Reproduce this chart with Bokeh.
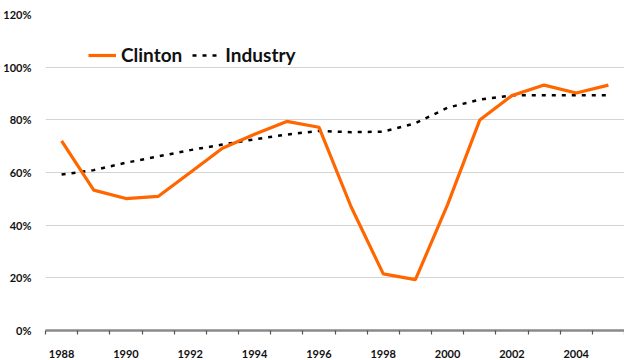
from bokeh.plotting import figure
from bokeh.models import ColumnDataSource, FixedTicker, PrintfTickFormatter, NumeralTickFormatter, Legend, LegendItem, Range1d
from bokeh.embed import file_html
from bokeh.resources import INLINE

# Yearly share, in percent
years = [1988, 1989, 1990, 1991, 1992, 1993, 1994, 1995, 1996,
         1997, 1998, 1999, 2000, 2001, 2002, 2003, 2004, 2005]
clinton = [72, 53.3, 50.1, 50.9, 60, 69.2, 74.5, 79.4, 77.2,
           47, 21.5, 19.3, 47.8, 79.9, 89.2, 93.2, 90.2, 93.2]
industry = [59.2, 60.9, 63.7, 66.1, 68.5, 70.6, 72.6, 74.4, 75.8,
            75.3, 75.5, 78.7, 84.6, 87.7, 89.3, 89.3, 89.3, 89.3]

y_ticks = [0, 20, 40, 60, 80, 100, 120]
x_label_years = [1988, 1990, 1992, 1994, 1996, 1998, 2000, 2002, 2004]

src = ColumnDataSource(data=dict(year=years, clinton=clinton, industry=industry))

FONT = "Lato"

p = figure(width=624, height=360, output_backend="svg", toolbar_location=None,
           x_range=Range1d(years[0] - 0.5, years[-1] + 0.5),
           y_range=Range1d(0, 120),
           min_border_left=45, min_border_right=0, min_border_top=14, min_border_bottom=29)
p.outline_line_color = None
p.background_fill_color = "white"
p.border_fill_color = "white"

# horizontal gridlines only
p.xgrid.grid_line_color = None
p.ygrid.ticker = FixedTicker(ticks=y_ticks)
p.ygrid.grid_line_color = "#d4d4d4"
p.ygrid.grid_line_width = 1.2

# y axis: percentage labels, no axis line or ticks
p.yaxis.ticker = FixedTicker(ticks=y_ticks, minor_ticks=[])
p.yaxis.formatter = PrintfTickFormatter(format="%d%%")
p.yaxis.axis_line_color = None
p.yaxis.major_tick_line_color = None
p.yaxis.minor_tick_line_color = None
p.yaxis.major_label_standoff = 8
p.yaxis.major_label_text_font = FONT
p.yaxis.major_label_text_font_style = "bold"
p.yaxis.major_label_text_font_size = "11px"
p.yaxis.major_label_text_color = "#111111"

# x axis: labels every other year, ticks between years
boundaries = [y - 0.5 for y in years] + [years[-1] + 0.5]
p.xaxis.ticker = FixedTicker(ticks=x_label_years, minor_ticks=boundaries)
p.xaxis.formatter = NumeralTickFormatter(format="0")
p.xaxis.axis_line_color = "#8a8a8a"
p.xaxis.axis_line_width = 2.5
p.xaxis.major_tick_line_color = None
p.xaxis.major_tick_out = 0
p.xaxis.major_tick_in = 0
p.xaxis.minor_tick_line_color = "#555555"
p.xaxis.minor_tick_line_width = 1.2
p.xaxis.minor_tick_out = 4
p.xaxis.minor_tick_in = 0
p.xaxis.major_label_standoff = 15
p.xaxis.major_label_text_font = FONT
p.xaxis.major_label_text_font_style = "bold"
p.xaxis.major_label_text_font_size = "11px"
p.xaxis.major_label_text_color = "#111111"

r_ind = p.line("year", "industry", source=src, line_color="black", line_width=2.5,
               line_dash="4 6")
r_cl = p.line("year", "clinton", source=src, line_color="#ff6600", line_width=3.2)

legend = Legend(items=[LegendItem(label="Clinton", renderers=[r_cl]),
                       LegendItem(label="Industry", renderers=[r_ind])],
                orientation="horizontal", location=(43, 264))
legend.label_text_font = FONT
legend.label_text_font_style = "bold"
legend.label_text_font_size = "19px"
legend.label_text_color = "#111111"
legend.glyph_width = 28
legend.label_standoff = 5
legend.spacing = 10
legend.padding = 6
legend.margin = 0
legend.border_line_color = None
legend.background_fill_color = "white"
legend.background_fill_alpha = 1.0
p.add_layout(legend, "center")

open("out.html", "w").write(file_html(p, INLINE))
